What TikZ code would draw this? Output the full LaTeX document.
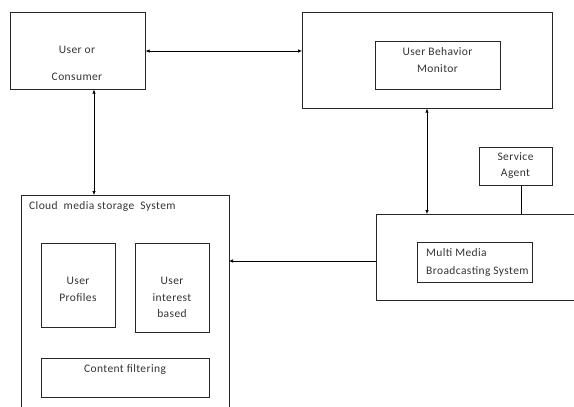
\documentclass[tikz,border=0pt]{standalone}
\usepackage{fontspec}
\setmainfont[LetterSpace=3.5]{Carlito}
\usetikzlibrary{arrows.meta}
\begin{document}
\begin{tikzpicture}[x=1pt,y=-1pt,
  box/.style={draw=black!85,line width=0.6pt},
  lbl/.style={font=\fontsize{11.5}{13}\selectfont,text=black!80,inner sep=0pt},
  link/.style={line width=0.6pt,{Latex[length=4pt,width=3.5pt]}-{Latex[length=4pt,width=3.5pt]}},
  onelink/.style={line width=0.6pt,-{Latex[length=4pt,width=3.5pt]}}]
\useasboundingbox (0,0) rectangle (574,407);
% main boxes
\node[box,inner sep=0pt,minimum width=135pt,minimum height=77pt,anchor=north west] (user) at (10,12) {};
\node[lbl] at (77,50) {User or};
\node[lbl] at (77,77) {Consumer};

\node[box,inner sep=0pt,minimum width=250pt,minimum height=96pt,anchor=north west] (ubm) at (302,12) {};
\node[box,inner sep=0pt,minimum width=125pt,minimum height=48pt,anchor=north west] (ubmin) at (375,41) {};
\node[lbl] at (437.5,52) {User Behavior};
\node[lbl] at (437.5,69) {Monitor};

\node[box,inner sep=0pt,minimum width=73pt,minimum height=38pt,anchor=north west] (agent) at (479,147) {};
\node[lbl] at (515.5,157) {Service};
\node[lbl] at (515.5,174) {Agent};

% broadcasting system (runs past the right edge)
\draw[box] (580,214) -- (376,214) -- (376,300) -- (580,300);
\coordinate (mmL) at (376,261);
\coordinate (mmT) at (427,214);
\coordinate (mmTa) at (521,214);
\node[box,inner sep=0pt,minimum width=115pt,minimum height=40pt,anchor=north west] (mmin) at (417,242) {};
\node[lbl,anchor=west] at (426,253) {Multi Media};
\node[lbl,anchor=west] at (426,271) {Broadcasting System};

% cloud storage (runs past the bottom edge)
\draw[box] (21,410) -- (21,195) -- (229,195) -- (229,410);
\coordinate (csT) at (94,195);
\coordinate (csR) at (229,261);
\node[lbl,anchor=west] at (29,206) {Cloud\ \ media storage\ \ System};
\node[box,inner sep=0pt,minimum width=74pt,minimum height=84pt,anchor=north west] (prof) at (41,243) {};
\node[lbl] at (78,281) {User};
\node[lbl] at (78,298) {Profiles};
\node[box,inner sep=0pt,minimum width=74pt,minimum height=89pt,anchor=north west] (intr) at (135,243) {};
\node[lbl] at (172,281) {User};
\node[lbl] at (172,298) {interest};
\node[lbl] at (172,314) {based};
\node[box,inner sep=0pt,minimum width=168pt,minimum height=39pt,anchor=north west] (filt) at (41,358) {};
\node[lbl] at (125,369) {Content filtering};

% connectors
\draw[link] (user.east |- 0,51) -- (ubm.west |- 0,51);
\draw[link] (user.south -| csT) -- (csT);
\draw[link] (ubm.south -| mmT) -- (mmT);
\draw[line width=0.6pt] (agent.south -| mmTa) -- (mmTa);
\draw[onelink] (mmL) -- (csR);
\end{tikzpicture}
\end{document}
